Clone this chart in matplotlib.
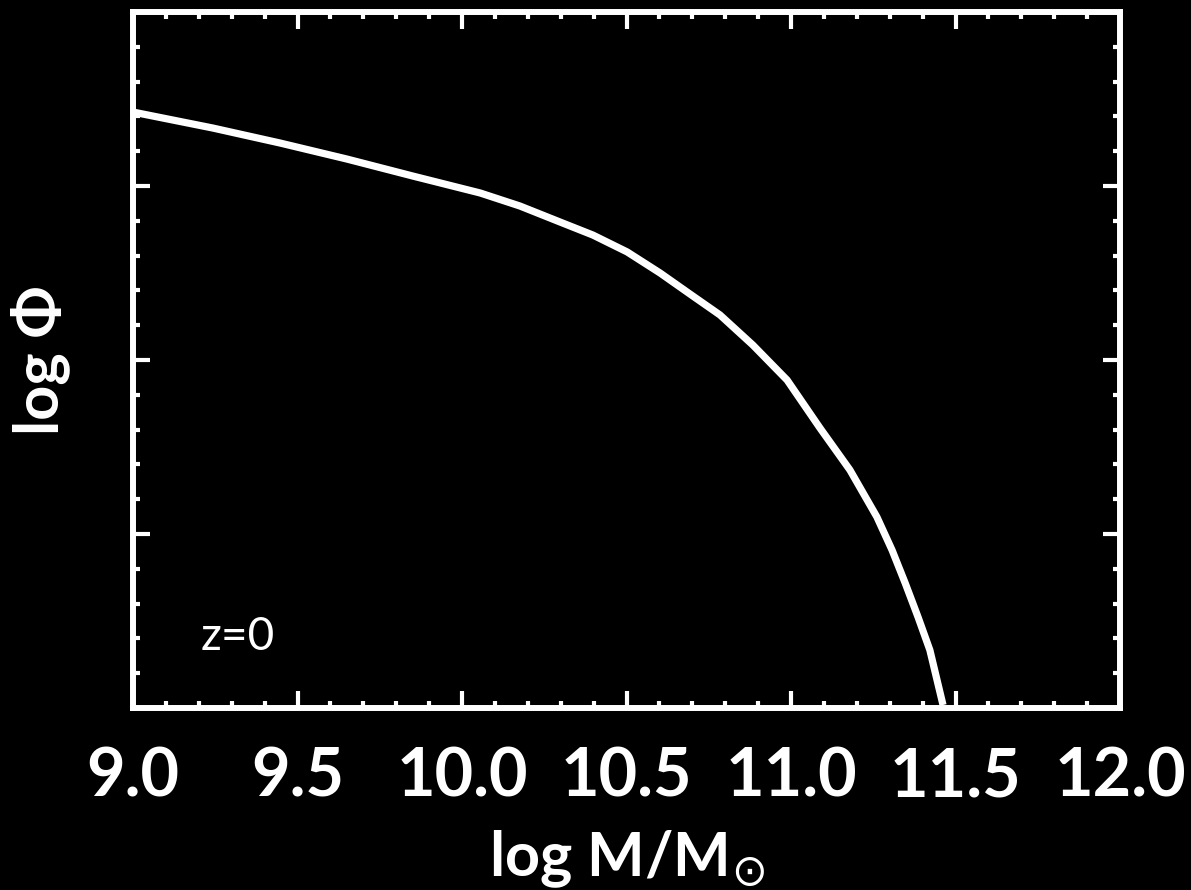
import numpy as np
import matplotlib.pyplot as plt
from matplotlib.ticker import MultipleLocator, NullFormatter

# --- data (log M vs log phi) ---
log_mass = [9.000, 9.243, 9.447, 9.650, 9.851, 10.055, 10.176, 10.298, 10.398,
            10.502, 10.602, 10.693, 10.784, 10.884, 10.988, 11.088, 11.179,
            11.261, 11.307, 11.347, 11.386, 11.422, 11.462]
log_phi = [-1.575, -1.667, -1.753, -1.845, -1.943, -2.040, -2.115, -2.207, -2.282,
           -2.379, -2.500, -2.621, -2.741, -2.914, -3.115, -3.391, -3.632,
           -3.902, -4.092, -4.282, -4.477, -4.667, -4.983]

x_ticks = [9.0, 9.5, 10.0, 10.5, 11.0, 11.5, 12.0]
x_ticklabels = ['9.0', '9.5', '10.0', '10.5', '11.0', '11.5', '12.0']

plt.rcParams['font.family'] = ['Lato', 'DejaVu Sans']
plt.rcParams['mathtext.fontset'] = 'dejavusans'

fig = plt.figure(figsize=(11.91, 8.90), dpi=100, facecolor='black')
ax = fig.add_axes([0.1117, 0.2045, 0.8287, 0.782])
ax.set_facecolor('black')

ax.plot(log_mass, log_phi, color='white', lw=5.2,
        solid_capstyle='butt', solid_joinstyle='round')

ax.set_xlim(9.0, 12.0)
ax.set_ylim(-5.0, -1.0)
ax.set_xticks(x_ticks)
ax.set_xticklabels(x_ticklabels, fontweight='bold')
ax.xaxis.set_minor_locator(MultipleLocator(0.1))
ax.yaxis.set_major_locator(MultipleLocator(1.0))
ax.yaxis.set_minor_locator(MultipleLocator(0.2))
ax.yaxis.set_major_formatter(NullFormatter())

for s in ax.spines.values():
    s.set_color('white')
    s.set_linewidth(4.3)

ax.tick_params(which='both', direction='in', top=True, right=True,
               color='white', width=3)
ax.tick_params(which='major', length=12)
ax.tick_params(which='minor', length=5)
ax.tick_params(axis='x', which='major', labelsize=48, labelcolor='white', pad=28)
ax.tick_params(axis='y', labelleft=False)

ax.set_xlabel(r'log M/M$_{\odot}$', color='white', fontsize=44,
              fontweight='bold', labelpad=14)
ax.set_ylabel(r'log Φ', color='white', fontsize=44, fontweight='bold')
ax.yaxis.set_label_coords(-0.064, 0.5)

ax.text(0.068, 0.083, 'z=0', color='white', fontsize=33,
        transform=ax.transAxes, va='baseline')

fig.savefig('out.png', dpi=100, facecolor='black')
